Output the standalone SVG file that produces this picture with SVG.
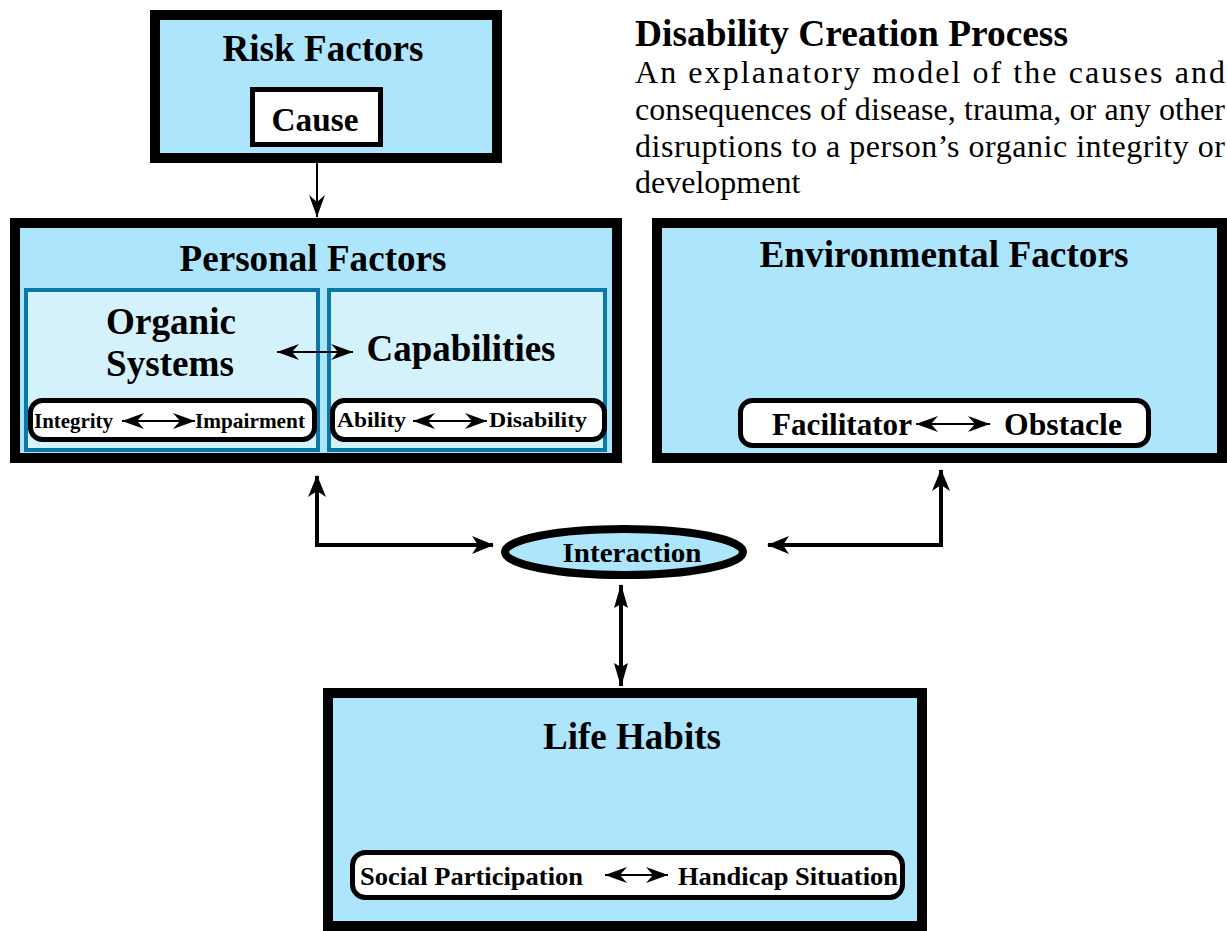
<svg xmlns="http://www.w3.org/2000/svg" width="1227" height="931" viewBox="0 0 1227 931">
<style>
.box{fill:#ade5fd;stroke:#000;stroke-width:10}
.inner{fill:#d4f2fc;stroke:#0a78a8;stroke-width:4}
.pill{fill:#fff;stroke:#000;stroke-width:5}
.t{font-family:'Liberation Serif',Tinos,'Times New Roman',Times,serif;font-weight:bold;fill:#000}
.body{font-family:'Liberation Serif',Tinos,'Times New Roman',Times,serif;font-size:32px;fill:#000}
.conn{fill:none;stroke:#000;stroke-width:4}
.thin{fill:none;stroke:#000;stroke-width:2}
</style>
<defs>
<marker id="ah" viewBox="0 0 22 18" refX="21" refY="9" markerWidth="22" markerHeight="18" markerUnits="userSpaceOnUse" orient="auto-start-reverse">
<path d="M0,0 L22,9 L0,18 L6,9 z" fill="#000"/>
</marker>
<marker id="ahn" viewBox="0 0 24 14" refX="23" refY="7" markerWidth="24" markerHeight="14" markerUnits="userSpaceOnUse" orient="auto-start-reverse">
<path d="M0,0 L24,7 L0,14 L4,7 z" fill="#000"/>
</marker>
<marker id="ahs" viewBox="0 0 22 16" refX="22" refY="8" markerWidth="22" markerHeight="16" markerUnits="userSpaceOnUse" orient="auto-start-reverse">
<path d="M0,0 L22,8 L0,16 L7,8 z" fill="#000"/>
</marker>
</defs>

<g id="title">
<text class="t" x="635" y="46" font-size="37" textLength="433" lengthAdjust="spacingAndGlyphs">Disability Creation Process</text>
<text class="body" x="635" y="83" textLength="590" lengthAdjust="spacing">An explanatory model of the causes and</text>
<text class="body" x="635" y="120" textLength="590" lengthAdjust="spacing">consequences of disease, trauma, or any other</text>
<text class="body" x="635" y="157" textLength="590" lengthAdjust="spacing">disruptions to a person’s organic integrity or</text>
<text class="body" x="635" y="193">development</text>
</g>

<g id="connectors">
<line class="thin" x1="317" y1="163" x2="317" y2="217" marker-end="url(#ahs)"/>
<path class="conn" d="M317,476 L317,545 L493,545" marker-start="url(#ah)" marker-end="url(#ah)"/>
<path class="conn" d="M941,470 L941,545 L768,545" marker-start="url(#ah)" marker-end="url(#ah)"/>
<line class="conn" x1="621" y1="585" x2="621" y2="686" marker-start="url(#ahn)" marker-end="url(#ahn)"/>
</g>

<g id="risk-factors">
<rect class="box" x="155" y="15" width="342" height="143"/>
<text class="t" x="323" y="61" font-size="37" text-anchor="middle" textLength="201" lengthAdjust="spacingAndGlyphs">Risk Factors</text>
<g id="cause">
<rect class="pill" x="252.5" y="89.5" width="128" height="55"/>
<text class="t" x="315" y="131" font-size="33" text-anchor="middle" textLength="87" lengthAdjust="spacingAndGlyphs">Cause</text>
</g>
</g>

<g id="personal-factors">
<rect class="box" x="15" y="223" width="602" height="235"/>
<text class="t" x="313" y="271" font-size="37" text-anchor="middle" textLength="267" lengthAdjust="spacingAndGlyphs">Personal Factors</text>
<g id="organic-systems">
<rect class="inner" x="26" y="290" width="292" height="160"/>
<text class="t" x="171" y="334" font-size="38" text-anchor="middle" textLength="130" lengthAdjust="spacingAndGlyphs">Organic</text>
<text class="t" x="170" y="376" font-size="38" text-anchor="middle" textLength="128" lengthAdjust="spacingAndGlyphs">Systems</text>
<rect class="pill" x="30.5" y="400.5" width="284" height="39" rx="12"/>
<text class="t" x="34" y="428" font-size="22" textLength="79" lengthAdjust="spacingAndGlyphs">Integrity</text>
<line class="thin" x1="122" y1="421" x2="195" y2="421" marker-start="url(#ahs)" marker-end="url(#ahs)"/>
<text class="t" x="305" y="428" font-size="22" text-anchor="end" textLength="110" lengthAdjust="spacingAndGlyphs">Impairment</text>
</g>
<g id="capabilities">
<rect class="inner" x="329" y="290" width="276" height="160"/>
<text class="t" x="461" y="361" font-size="38" text-anchor="middle" textLength="189" lengthAdjust="spacingAndGlyphs">Capabilities</text>
<rect class="pill" x="332.5" y="400.5" width="272" height="39" rx="12"/>
<text class="t" x="337" y="427" font-size="22" textLength="69" lengthAdjust="spacingAndGlyphs">Ability</text>
<line class="thin" x1="413" y1="421" x2="487" y2="421" marker-start="url(#ahs)" marker-end="url(#ahs)"/>
<text class="t" x="587" y="427" font-size="22" text-anchor="end" textLength="98" lengthAdjust="spacingAndGlyphs">Disability</text>
</g>
<line class="thin" x1="277" y1="352" x2="353" y2="352" marker-start="url(#ahs)" marker-end="url(#ahs)"/>
</g>

<g id="environmental-factors">
<rect class="box" x="657" y="223" width="565" height="235"/>
<text class="t" x="944" y="267" font-size="37" text-anchor="middle" textLength="369" lengthAdjust="spacingAndGlyphs">Environmental Factors</text>
<rect class="pill" x="740.5" y="400.5" width="408" height="45" rx="12"/>
<text class="t" x="772" y="435" font-size="31" textLength="140" lengthAdjust="spacingAndGlyphs">Facilitator</text>
<line class="thin" x1="916" y1="424" x2="990" y2="424" marker-start="url(#ahs)" marker-end="url(#ahs)"/>
<text class="t" x="1004" y="435" font-size="31" textLength="118" lengthAdjust="spacingAndGlyphs">Obstacle</text>
</g>

<g id="interaction">
<ellipse cx="624" cy="552" rx="119" ry="23" fill="#ade5fd" stroke="#000" stroke-width="8"/>
<text class="t" x="632" y="562" font-size="27" text-anchor="middle" textLength="139" lengthAdjust="spacingAndGlyphs">Interaction</text>
</g>

<g id="life-habits">
<rect class="box" x="328" y="693" width="594" height="233"/>
<text class="t" x="632" y="749" font-size="37" text-anchor="middle" textLength="178" lengthAdjust="spacingAndGlyphs">Life Habits</text>
<rect class="pill" x="352.5" y="852.5" width="550" height="45" rx="13"/>
<text class="t" x="360" y="885" font-size="26" textLength="223" lengthAdjust="spacingAndGlyphs">Social Participation</text>
<line class="thin" x1="605" y1="875" x2="668" y2="875" marker-start="url(#ahs)" marker-end="url(#ahs)"/>
<text class="t" x="678" y="885" font-size="26" textLength="220" lengthAdjust="spacingAndGlyphs">Handicap Situation</text>
</g>
</svg>
